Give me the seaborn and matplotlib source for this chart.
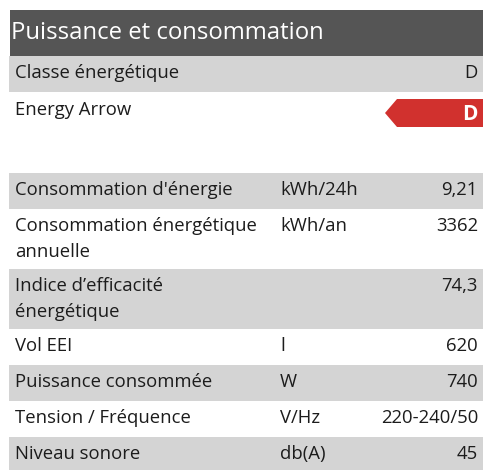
import matplotlib
matplotlib.use("Agg")
import matplotlib.pyplot as plt
from matplotlib.patches import Polygon
import seaborn as sns

# table content
title = "Puissance et consommation"
energy_class = "D"
labels = ["Consommation d'énergie", "Consommation énergétique\nannuelle",
          "Indice d’efficacité\nénergétique", "Vol EEI", "Puissance consommée",
          "Tension / Fréquence", "Niveau sonore"]
units = ["kWh/24h", "kWh/an", "", "l", "W", "V/Hz", "db(A)"]
values = ["9,21", "3362", "74,3", "620", "740", "220-240/50", "45"]

sns.set_style("white")
plt.rcParams['font.family'] = ['Open Sans', 'DejaVu Sans']

HEADER = "#555555"
STRIPE = "#d4d4d4"
RED = "#d1312e"
TXT = "#1c1c1c"
FS = 13.3

fig = plt.figure(figsize=(4.83, 4.70), dpi=100)
ax = fig.add_axes([0, 0, 1, 1])
ax.set_xlim(0, 483)
ax.set_ylim(470, 0)
ax.axis("off")

# header
ax.barh(33, 473, left=10, height=46, color=HEADER, lw=0)
ax.text(11, 33, title, color="white", fontsize=17.2, va="center", ha="left")

# energy class
ax.barh(74, 474, left=9, height=36, color=STRIPE, lw=0)
ax.text(15, 73, "Classe énergétique", color=TXT, fontsize=FS, va="center")
ax.text(478, 73, energy_class, color=TXT, fontsize=FS, va="center", ha="right")

# energy arrow
ax.text(15, 110, "Energy Arrow", color=TXT, fontsize=FS, va="center")
ax.add_patch(Polygon([(385, 113), (397, 99), (483, 99), (483, 127), (397, 127)],
                     closed=True, color=RED, lw=0))
ax.text(470, 114, energy_class, color="white", fontsize=15, fontweight="bold",
        va="center", ha="center")

# spec rows
top = 173
line_h = 26
for i, (lab, unit, val) in enumerate(zip(labels, units, values)):
    n = lab.count("\n") + 1
    h = 36 + (n - 1) * 24
    if i % 2 == 0:
        ax.barh(top + h / 2, 474, left=9, height=h, color=STRIPE, lw=0)
    y = top + 17
    for k, line in enumerate(lab.split("\n")):
        ax.text(15, y + k * line_h, line, color=TXT, fontsize=FS, va="center")
    ax.text(280, y, unit, color=TXT, fontsize=FS, va="center")
    ax.text(478, y, val, color=TXT, fontsize=FS, va="center", ha="right")
    top += h

fig.savefig("out.png", dpi=100)
